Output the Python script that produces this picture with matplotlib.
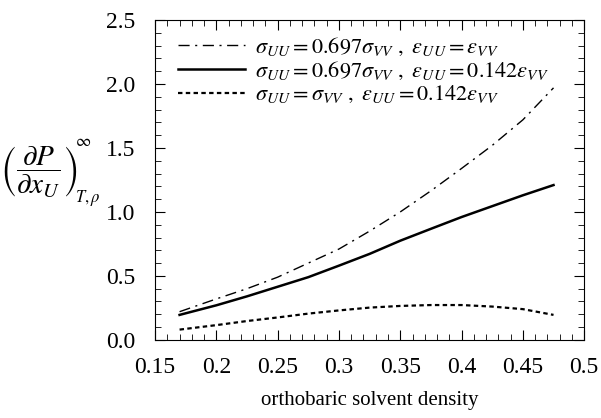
import matplotlib
matplotlib.use("Agg")
import matplotlib.pyplot as plt
from matplotlib.ticker import MultipleLocator, FuncFormatter, FormatStrFormatter

plt.rcParams["font.family"] = "Liberation Serif"
plt.rcParams["mathtext.fontset"] = "stix"

# densities and curves
rho = [0.17, 0.2, 0.225, 0.25, 0.275, 0.3, 0.325, 0.35, 0.375, 0.4, 0.425, 0.45, 0.475]
dashdot = [0.22, 0.32, 0.40, 0.49, 0.60, 0.71, 0.85, 1.00, 1.165, 1.34, 1.52, 1.72, 1.97]
solid = [0.195, 0.27, 0.34, 0.415, 0.49, 0.58, 0.672, 0.775, 0.868, 0.96, 1.045, 1.13, 1.21]
dotted = [0.08, 0.115, 0.147, 0.175, 0.205, 0.23, 0.252, 0.265, 0.272, 0.272, 0.26, 0.24, 0.195]

labels = [
    r"$\sigma_{UU} = 0.697\sigma_{VV}\ ,\ \varepsilon_{UU} = \varepsilon_{VV}$",
    r"$\sigma_{UU} = 0.697\sigma_{VV}\ ,\ \varepsilon_{UU} = 0.142\varepsilon_{VV}$",
    r"$\sigma_{UU} = \sigma_{VV}\ ,\ \varepsilon_{UU} = 0.142\varepsilon_{VV}$",
]

fig = plt.figure(figsize=(6.01, 4.18), dpi=100)
ax = fig.add_axes([0.258, 0.187, 0.714, 0.765])

ax.plot(rho, dashdot, color="black", lw=1.0, ls=(0, (8, 4, 1.5, 4)), label=labels[0])
ax.plot(rho, solid, color="black", lw=1.8, ls="-", label=labels[1])
ax.plot(rho, dotted, color="black", lw=1.6, ls=(0, (2, 1.5)), label=labels[2])

ax.set_xlim(0.15, 0.5)
ax.set_ylim(0.0, 2.5)
ax.xaxis.set_major_locator(MultipleLocator(0.05))
ax.xaxis.set_minor_locator(MultipleLocator(0.01))
ax.yaxis.set_major_locator(MultipleLocator(0.5))
ax.yaxis.set_minor_locator(MultipleLocator(0.1))
ax.xaxis.set_major_formatter(FuncFormatter(lambda v, p: f"{v:.2f}".rstrip("0")))
ax.yaxis.set_major_formatter(FormatStrFormatter("%.1f"))
ax.tick_params(which="both", direction="in", top=True, right=True, labelsize=17)
ax.tick_params(axis="x", pad=12)
ax.tick_params(axis="y", pad=14)
ax.tick_params(which="major", length=7)
ax.tick_params(which="minor", length=4)
for s in ax.spines.values():
    s.set_linewidth(0.8)

ax.set_xlabel("orthobaric solvent density", fontsize=15, labelpad=10)

# y label built from three pieces so the brackets can be tall like the original
fig.text(0.064, 0.589, r"$\left(\dfrac{\partial P}{\partial x_U}\right)$",
         fontsize=21, ha="center", va="center")
fig.text(0.138, 0.660, r"$\infty$", fontsize=12, ha="center", va="center")
fig.text(0.146, 0.526, r"$T,\rho$", fontsize=12, ha="center", va="center")

ax.legend(loc="upper left", frameon=False, fontsize=16, handlelength=3.0,
          handletextpad=0.45, labelspacing=0.1, borderaxespad=0.6,
          borderpad=0.2, bbox_to_anchor=(0.012, 1.006))

fig.savefig("out.png", dpi=100)
